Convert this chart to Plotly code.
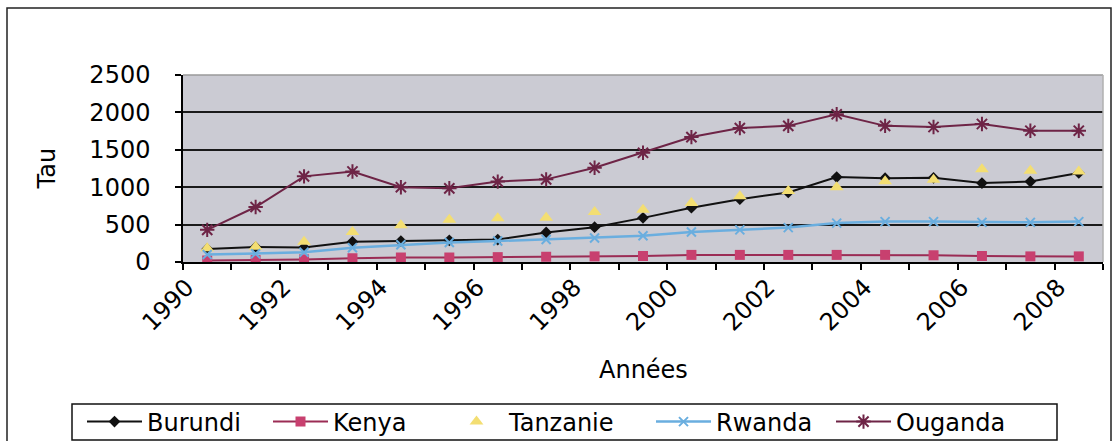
import plotly.graph_objects as go

# Years on the horizontal axis and the value of "Tau" per country
years = list(range(1990, 2009))
burundi = [175, 200, 195, 270, 280, 290, 300, 395, 465, 590, 725, 840, 930, 1135, 1120, 1125, 1055, 1075, 1190]
kenya = [20, 25, 35, 50, 60, 60, 65, 70, 75, 80, 95, 95, 95, 95, 95, 90, 80, 75, 75]
tanzanie = [185, 205, 270, 400, 490, 565, 585, 590, 670, 700, 790, 880, 950, 1000, 1080, 1100, 1240, 1220, 1210]
rwanda = [100, 110, 130, 190, 230, 260, 280, 300, 320, 350, 400, 430, 460, 520, 540, 540, 530, 530, 540]
ouganda = [430, 735, 1145, 1210, 1000, 985, 1075, 1105, 1260, 1460, 1670, 1790, 1820, 1975, 1820, 1805, 1845, 1755, 1755]

label_years = list(range(1990, 2009, 2))
y_ticks = [0, 500, 1000, 1500, 2000, 2500]

FONT = "DejaVu Sans"
W, H = 1114, 441
L, R, T, B = 183, 11, 75, 179
PW, PH = W - L - R, H - T - B


def px_x(px):
    return (px - L) / PW


def px_y(py):
    return (H - B - py) / PH


fig = go.Figure()

fig.add_trace(go.Scatter(
    x=years, y=burundi, name="Burundi", mode="lines+markers",
    line=dict(color="#111111", width=2),
    marker=dict(symbol="diamond", size=9, color="#111111"),
    legend="legend",
))
fig.add_trace(go.Scatter(
    x=years, y=kenya, name="Kenya", mode="lines+markers",
    line=dict(color="#9B2C55", width=2),
    marker=dict(symbol="square", size=10, color="#C8406F"),
    legend="legend2",
))
fig.add_trace(go.Scatter(
    x=years, y=tanzanie, name="Tanzanie", mode="markers",
    marker=dict(symbol="triangle-up", size=12, color="#F3DE72"),
    legend="legend3",
))
fig.add_trace(go.Scatter(
    x=years, y=rwanda, name="Rwanda", mode="lines+markers",
    line=dict(color="#6AAEDF", width=2.5),
    marker=dict(symbol="x-thin-open", size=9, line=dict(color="#3F8FD0", width=2)),
    legend="legend4",
))
fig.add_trace(go.Scatter(
    x=years, y=ouganda, name="Ouganda", mode="lines+markers",
    line=dict(color="#6E2446", width=2),
    marker=dict(symbol="asterisk-open", size=12, line=dict(color="#A8386A", width=2)),
    legend="legend5",
))

tick_font = dict(family=FONT, size=24, color="#000000")

fig.update_xaxes(
    range=[1989.5, 2008.5],
    tickmode="array",
    tickvals=[y - 0.42 for y in label_years],
    ticktext=[str(y) for y in label_years],
    tickangle=-45,
    ticks="",
    tickfont=tick_font,
    showgrid=False,
    zeroline=False,
    showline=True, linecolor="#000000", linewidth=1.5,
    minor=dict(tickmode="linear", tick0=1989.5, dtick=1, ticks="outside",
               ticklen=6, tickcolor="#000000", tickwidth=1.5, showgrid=False),
)
fig.update_yaxes(
    range=[0, 2500],
    tickmode="array",
    tickvals=y_ticks,
    ticks="outside", ticklen=6, tickcolor="#000000", tickwidth=1.5,
    tickfont=tick_font,
    ticklabelstandoff=20,
    showgrid=True, gridcolor="#1a1a1a", gridwidth=1.5,
    zeroline=False,
    showline=True, linecolor="#000000", linewidth=1.5,
)

# Legend entries, one row inside a framed box under the chart
legend_left = [82, 268, 444, 651, 831]
legend_common = dict(
    orientation="h", yanchor="middle", xanchor="left",
    y=px_y(422), bgcolor="rgba(0,0,0,0)", borderwidth=0,
    font=dict(family=FONT, size=24, color="#000000"),
    itemwidth=55,
)
legends = {}
for i, lx in enumerate(legend_left):
    key = "legend" if i == 0 else f"legend{i + 1}"
    legends[key] = dict(legend_common, x=px_x(lx))

shapes = [
    # outer chart frame
    dict(type="rect", xref="paper", yref="paper",
         x0=px_x(7), x1=px_x(1111), y0=px_y(446), y1=px_y(8),
         line=dict(color="#222222", width=1.5), fillcolor="rgba(0,0,0,0)", layer="above"),
    # plot area border (top and right edges)
    dict(type="line", xref="paper", yref="paper", x0=0, x1=1, y0=1, y1=1,
         line=dict(color="#9a9a9a", width=1.5)),
    dict(type="line", xref="paper", yref="paper", x0=1, x1=1, y0=0, y1=1,
         line=dict(color="#b0b0b0", width=1.5)),
    # legend frame
    dict(type="rect", xref="paper", yref="paper",
         x0=px_x(72), x1=px_x(1057), y0=px_y(440), y1=px_y(404),
         line=dict(color="#111111", width=1.5), fillcolor="rgba(0,0,0,0)", layer="above"),
]

annotations = [
    dict(text="Tau", xref="paper", yref="paper", x=px_x(46), y=0.5,
         textangle=-90, showarrow=False, xanchor="center", yanchor="middle",
         font=dict(family=FONT, size=24, color="#000000")),
    dict(text="Années", xref="paper", yref="paper", x=0.5, y=px_y(370),
         showarrow=False, xanchor="center", yanchor="middle",
         font=dict(family=FONT, size=24, color="#000000")),
]

fig.update_layout(
    width=W, height=H,
    margin=dict(l=L, r=R, t=T, b=B, autoexpand=False),
    paper_bgcolor="#ffffff",
    plot_bgcolor="#CBCBD3",
    showlegend=True,
    shapes=shapes,
    annotations=annotations,
    **legends,
)

fig.write_html("out.html")
